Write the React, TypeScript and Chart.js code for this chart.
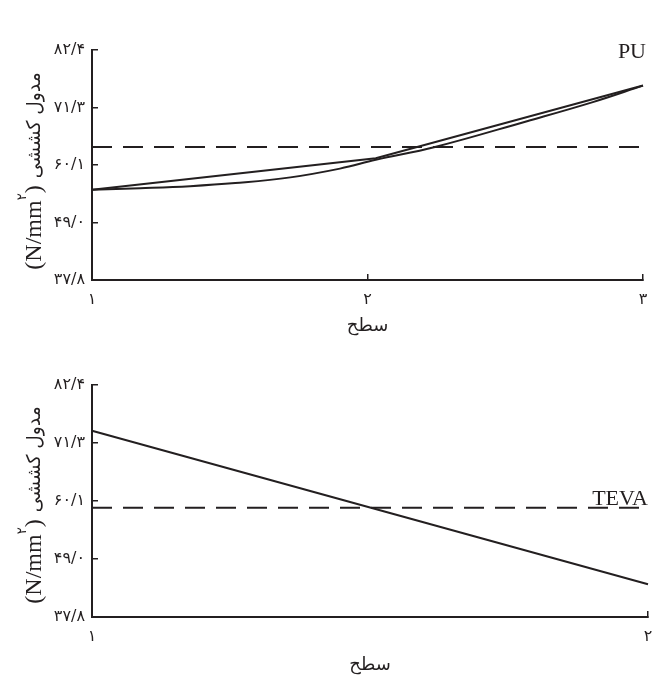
import React, { useEffect, useRef } from "react";
import { Chart, registerables } from "chart.js";

Chart.register(...registerables);

// ---------- data ----------
const yTickValues = [37.8, 48.95, 60.1, 71.25, 82.4];
const yTickLabels = ["۳۷/۸", "۴۹/۰", "۶۰/۱", "۷۱/۳", "۸۲/۴"];
const yTitleUnit = "(N/mm";
const yTitleSup = "۲";
const yTitleClose = ")";
const yTitleText = "مدول کششی";
const xTitleText = "سطح";

const puXTicks = [1, 2, 3];
const puXLabels = ["۱", "۲", "۳"];
const puLineX = [1, 2.03, 3];
const puLineY = [55.3, 61.4, 75.5];
const puCurveX = [1, 1.175, 1.356, 1.52, 1.72, 1.9, 2.03, 2.245, 2.579, 2.818, 3];
const puCurveY = [55.3, 55.6, 56.0, 56.6, 57.7, 59.4, 61.1, 63.6, 68.6, 72.3, 75.5];
const puRefX = [1, 3];
const puRefY = [63.6, 63.6];

const tevaXTicks = [1, 2];
const tevaXLabels = ["۱", "۲"];
const tevaLineX = [1, 2];
const tevaLineY = [73.6, 44.1];
const tevaRefX = [1, 2];
const tevaRefY = [58.8, 58.8];

// ---------- styles ----------
const INK = "#231f20";
const FA_FONT = "'DejaVu Sans', sans-serif";
const LATIN_FONT = "'Liberation Serif', 'Times New Roman', serif";

const pts = (xs: number[], ys: number[]) => xs.map((x, i) => ({ x, y: ys[i] }));

const yTitlePlugin = {
  id: "yTitleFa",
  afterDraw(chart: any) {
    const { ctx, chartArea } = chart;
    const o = chart.options.plugins.yTitleFa || {};
    const cx = 33;
    const cy = (chartArea.top + chartArea.bottom) / 2 + (o.shift || 0);
    ctx.save();
    ctx.translate(cx, cy);
    ctx.rotate(-Math.PI / 2);
    ctx.fillStyle = INK;
    ctx.textBaseline = "alphabetic";
    ctx.textAlign = "left";
    const fLatin = `24px ${LATIN_FONT}`;
    const fSup = `13px ${FA_FONT}`;
    const fFa = `19px ${FA_FONT}`;
    const faLength = 106;
    ctx.font = fLatin;
    const w1 = ctx.measureText(yTitleUnit).width;
    const w3 = ctx.measureText(yTitleClose).width;
    ctx.font = fSup;
    const w2 = ctx.measureText(yTitleSup).width;
    ctx.font = fFa;
    const w4raw = ctx.measureText(yTitleText).width;
    const sx = faLength / w4raw;
    const gap = 7;
    const total = w1 + w2 + w3 + gap + faLength;
    let x = -total / 2;
    ctx.font = fLatin;
    ctx.fillText(yTitleUnit, x, 8);
    x += w1;
    ctx.font = fSup;
    ctx.fillText(yTitleSup, x, -7);
    x += w2;
    ctx.font = fLatin;
    ctx.fillText(yTitleClose, x, 8);
    x += w3 + gap;
    ctx.font = fFa;
    ctx.save();
    ctx.translate(x, 7);
    ctx.scale(sx, 1);
    ctx.fillText(yTitleText, 0, 0);
    ctx.restore();
    ctx.restore();
  },
};

const panelLabelPlugin = {
  id: "panelLabel",
  afterDraw(chart: any) {
    const o = chart.options.plugins.panelLabel;
    if (!o) return;
    const { ctx } = chart;
    ctx.save();
    ctx.fillStyle = INK;
    ctx.font = `22px ${LATIN_FONT}`;
    ctx.textAlign = "right";
    ctx.textBaseline = "alphabetic";
    ctx.fillText(o.text, o.x, o.y);
    ctx.restore();
  },
};

type PanelProps = {
  top: number;
  height: number;
  padTop: number;
  padRight: number;
  xHeight: number;
  xTicks: number[];
  xLabels: string[];
  datasets: any[];
  label: string;
  labelX: number;
  labelY: number;
  titleShift: number;
  xTitlePad: number;
};

function Panel(p: PanelProps) {
  const ref = useRef<HTMLCanvasElement | null>(null);
  useEffect(() => {
    if (!ref.current) return;
    const chart = new Chart(ref.current, {
      type: "line",
      data: { datasets: p.datasets },
      plugins: [yTitlePlugin, panelLabelPlugin],
      options: {
        responsive: false,
        animation: false,
        devicePixelRatio: 1,
        layout: { padding: { left: 0, top: p.padTop, right: p.padRight, bottom: 0 } },
        plugins: {
          legend: { display: false },
          tooltip: { enabled: false },
          yTitleFa: { shift: p.titleShift },
          panelLabel: { text: p.label, x: p.labelX, y: p.labelY },
        } as any,
        scales: {
          x: {
            type: "linear",
            min: p.xTicks[0],
            max: p.xTicks[p.xTicks.length - 1],
            afterBuildTicks: (s: any) => {
              s.ticks = p.xTicks.map((v) => ({ value: v }));
            },
            afterFit: (s: any) => {
              s.height = p.xHeight;
              s.paddingLeft = 0;
              s.paddingRight = 0;
              s.paddingTop = 0;
              s.paddingBottom = 0;
            },
            grid: {
              display: true,
              drawOnChartArea: false,
              drawTicks: true,
              tickLength: -6,
              color: INK,
              lineWidth: 1.5,
            },
            border: { display: true, color: INK, width: 2 },
            ticks: {
              padding: 16,
              color: INK,
              font: { family: FA_FONT, size: 16 },
              autoSkip: false,
              maxRotation: 0,
              callback: (_v: any, i: number) => p.xLabels[i],
            },
            title: {
              display: true,
              text: xTitleText,
              color: INK,
              font: { family: FA_FONT, size: 18 },
              padding: { top: 0, bottom: p.xTitlePad },
            },
          },
          y: {
            type: "linear",
            min: yTickValues[0],
            max: yTickValues[yTickValues.length - 1],
            afterBuildTicks: (s: any) => {
              s.ticks = yTickValues.map((v) => ({ value: v }));
            },
            afterFit: (s: any) => {
              s.width = 92;
              s.paddingLeft = 0;
              s.paddingRight = 0;
              s.paddingTop = 0;
              s.paddingBottom = 0;
            },
            grid: {
              display: true,
              drawOnChartArea: false,
              drawTicks: true,
              tickLength: -6,
              color: INK,
              lineWidth: 1.5,
            },
            border: { display: true, color: INK, width: 2 },
            ticks: {
              padding: 13,
              color: INK,
              font: { family: FA_FONT, size: 16 },
              autoSkip: false,
              callback: (_v: any, i: number) => yTickLabels[i],
            },
          },
        },
      } as any,
    });
    return () => chart.destroy();
  }, []);
  return (
    <canvas
      ref={ref}
      width={652}
      height={p.height}
      style={{ position: "absolute", left: 0, top: p.top, display: "block" }}
    />
  );
}

const solid = (data: any[], extra: any = {}) => ({
  data,
  borderColor: INK,
  borderWidth: 2,
  pointRadius: 0,
  fill: false,
  clip: false,
  tension: 0,
  ...extra,
});

export default function App() {
  const puSets = [
    solid(pts(puLineX, puLineY)),
    solid(pts(puCurveX, puCurveY), { tension: 0.4 }),
    solid(pts(puRefX, puRefY), { borderDash: [20, 11], borderWidth: 2 }),
  ];
  const tevaSets = [
    solid(pts(tevaLineX, tevaLineY)),
    solid(pts(tevaRefX, tevaRefY), { borderDash: [20, 11], borderWidth: 2 }),
  ];
  return (
    <div style={{ position: "absolute", left: 0, top: 0, width: 652, height: 678, background: "#fff" }}>
      <Panel
        top={0}
        height={339}
        padTop={50}
        padRight={9}
        xHeight={59}
        xTicks={puXTicks}
        xLabels={puXLabels}
        datasets={puSets}
        label="PU"
        labelX={646}
        labelY={58}
        titleShift={6}
        xTitlePad={2}
      />
      <Panel
        top={339}
        height={339}
        padTop={46}
        padRight={4}
        xHeight={61}
        xTicks={tevaXTicks}
        xLabels={tevaXLabels}
        datasets={tevaSets}
        label="TEVA"
        labelX={648}
        labelY={166}
        titleShift={4}
        xTitlePad={2}
      />
    </div>
  );
}
